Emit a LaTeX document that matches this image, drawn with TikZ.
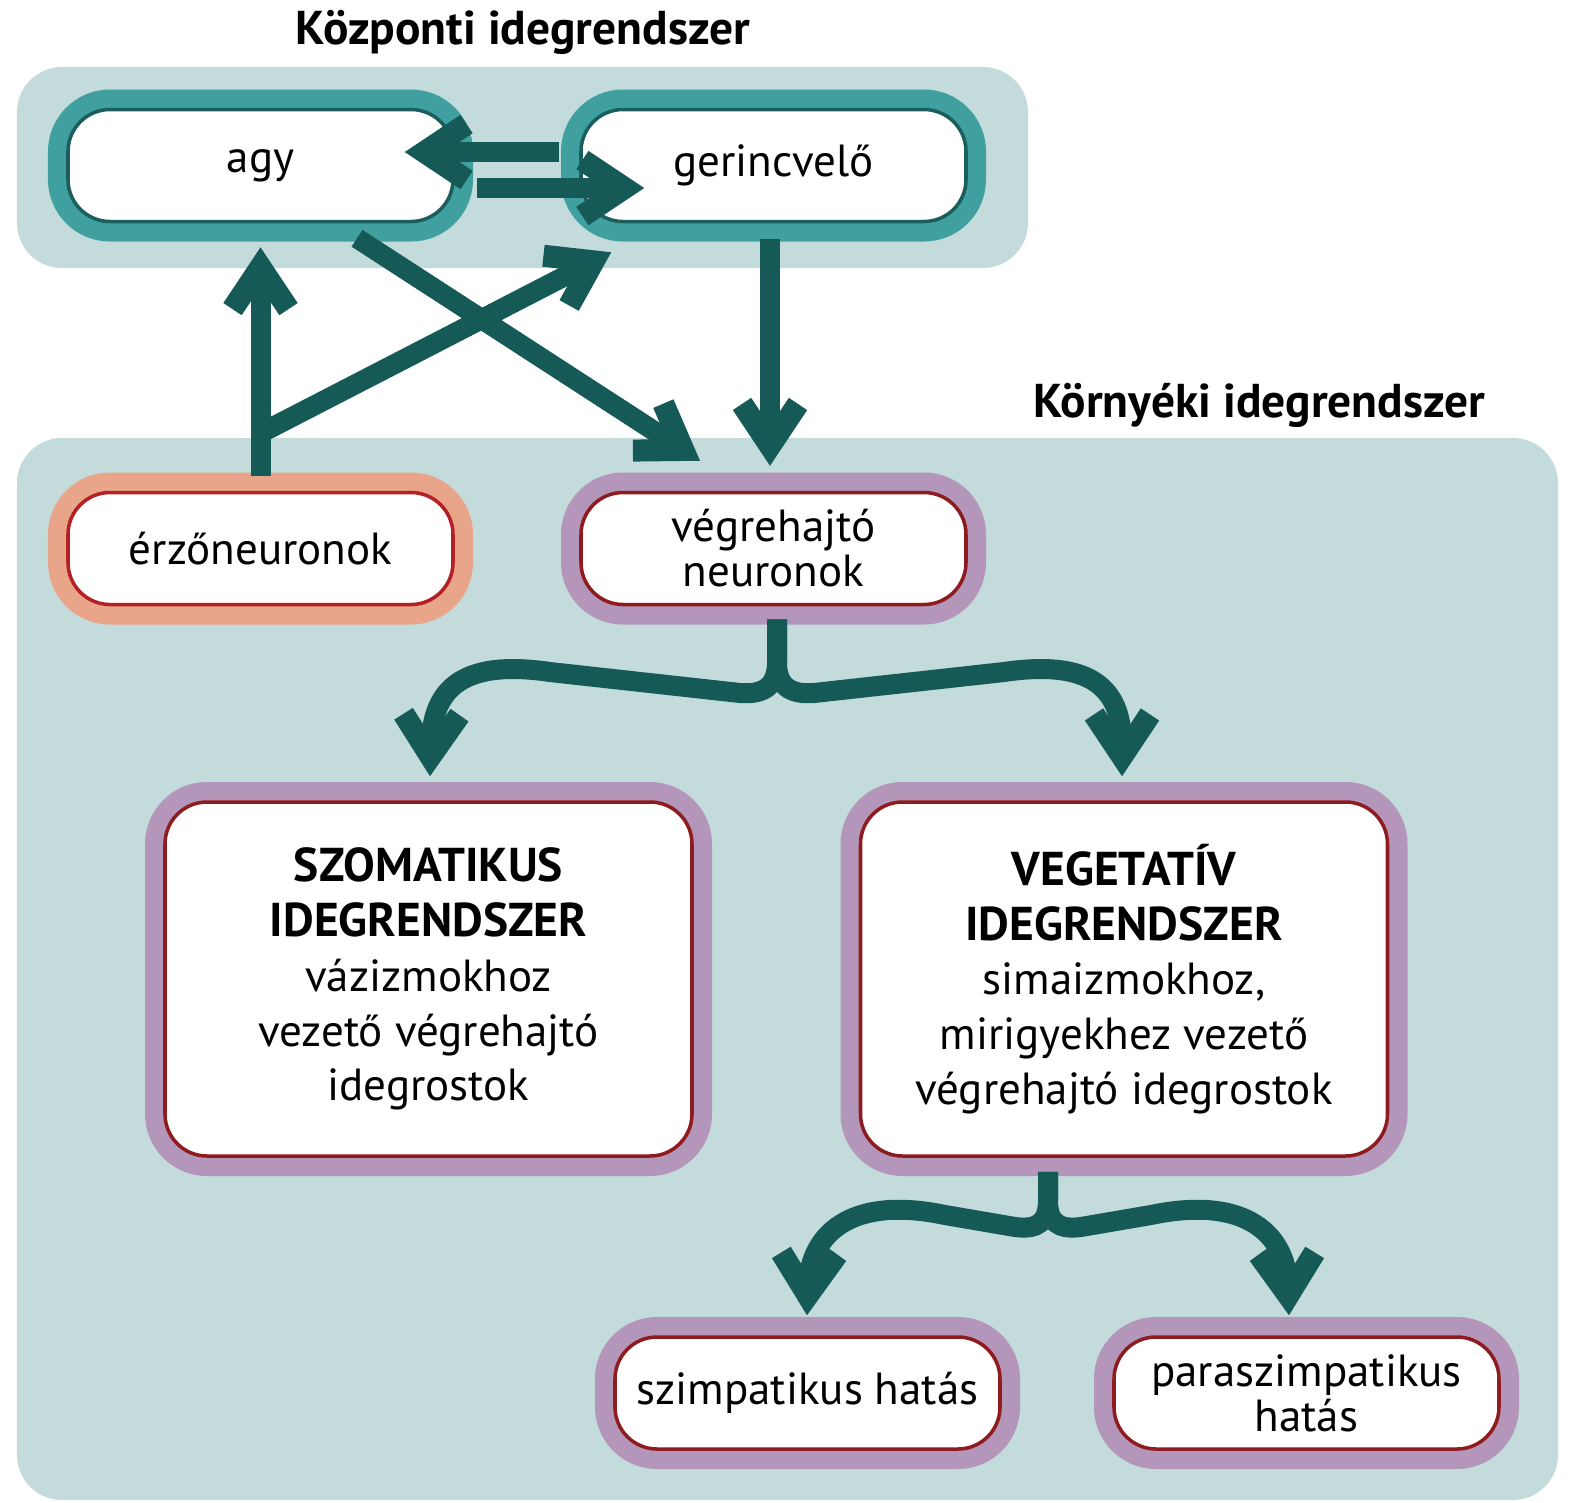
\documentclass[tikz,border=0pt]{standalone}
\usepackage{fontspec}
\setmainfont{PT Sans}
\usetikzlibrary{arrows.meta}

\definecolor{panelc}{HTML}{C4DBDB}
\definecolor{tealring}{HTML}{40A09F}
\definecolor{tealline}{HTML}{1B5E5D}
\definecolor{arrowc}{HTML}{165A57}
\definecolor{salmon}{HTML}{E9A58A}
\definecolor{lilac}{HTML}{B496BA}
\definecolor{redline}{HTML}{B52025}
\definecolor{darkred}{HTML}{8E1C1E}

\newcommand{\boxhead}[1]{{\fontsize{13.5}{15.6}\selectfont\bfseries #1}}

\tikzset{
  box/.style={rounded corners=0.42cm, fill=white, line width=1pt, align=center,
    font=\fontsize{12.8}{12.8}\selectfont, minimum width=3.85cm, minimum height=1.12cm,
    inner sep=0pt},
  cns/.style={box, draw=tealline, preaction={draw=tealring, line width=0.4cm}},
  sens/.style={box, draw=redline, preaction={draw=salmon, line width=0.4cm}},
  motor/.style={box, draw=darkred, preaction={draw=lilac, line width=0.4cm}},
  big/.style={minimum width=5.27cm, minimum height=3.54cm, font=\fontsize{12.8}{15.6}\selectfont},
  title/.style={font=\fontsize{13.5}{15}\selectfont\bfseries, inner sep=0pt},
  arr/.style={draw=arrowc, line width=0.2cm,
    -{Straight Barb[sharp, length=0.42cm, width=0.56cm, line width=0.22cm]}}
}

\begin{document}
\begin{tikzpicture}
    \useasboundingbox (0,0) rectangle (15.69,-15.03);

    % panels
    \fill[panelc, rounded corners=0.45cm] (0.17,-0.67) rectangle (10.28,-2.68);
    \fill[panelc, rounded corners=0.45cm] (0.17,-4.38) rectangle (15.58,-15.00);

    \node[title] (cnstitle) at (5.23,-0.32) {Központi idegrendszer};
    \node[title, anchor=east] (pnstitle) at (14.86,-4.05) {Környéki idegrendszer};

    % boxes
    \node[cns] (agy) at (2.605,-1.655) {agy};
    \node[cns] (gerinc) at (7.735,-1.655) {gerincvelő};
    \node[sens] (erzo) at (2.605,-5.485) {érzőneuronok};
    \node[motor] (vegre) at (7.735,-5.485) {végrehajtó\\neuronok};
    \node[motor, big] (szom) at (4.285,-9.79)
        {\boxhead{SZOMATIKUS}\\\boxhead{IDEGRENDSZER}\\vázizmokhoz\\vezető végrehajtó\\idegrostok};
    \node[motor, big] (veget) at (11.24,-9.79)
        {\boxhead{VEGETATÍV}\\\boxhead{IDEGRENDSZER}\\simaizmokhoz,\\mirigyekhez vezető\\végrehajtó idegrostok};
    \node[motor] (szimp) at (8.075,-13.93) {szimpatikus hatás};
    \node[motor] (para) at (13.065,-13.93) {paraszimpatikus\\hatás};

    % agy <-> gerincvelo
    \draw[arr] ([xshift=-0.2cm,yshift=0.135cm]gerinc.west) -- ([xshift=-0.5cm,yshift=0.135cm]agy.east);
    \draw[arr] ([xshift=0.22cm,yshift=-0.225cm]agy.east) -- ([xshift=0.65cm,yshift=-0.225cm]gerinc.west);

    % erzoneuronok up
    \draw[arr] ([yshift=0.15cm]erzo.north) -- ([yshift=-0.24cm]agy.south);
    \coordinate (fork) at (2.61,-4.33);
    \draw[arr] (fork) -- ([xshift=0.32cm,yshift=-0.29cm]gerinc.south west);

    % down to vegrehajto
    \draw[arr] ([xshift=0.965cm,yshift=-0.15cm]agy.south) -- ([xshift=-0.735cm,yshift=0.30cm]vegre.north);
    \draw[arr] ([xshift=-0.035cm,yshift=-0.16cm]gerinc.south) -- ([xshift=-0.035cm,yshift=0.25cm]vegre.north);

    % vegrehajto -> szomatikus / vegetativ
    \draw[arr] ([xshift=0.035cm,yshift=-0.13cm]vegre.south) -- (7.77,-6.62)
        .. controls (7.77,-6.85) and (7.65,-6.95) .. (7.40,-6.93) -- (5.50,-6.72)
        .. controls (4.55,-6.58) and (4.32,-6.95) .. ([xshift=0.015cm,yshift=0.24cm]szom.north);
    \draw[arr] ([xshift=0.035cm,yshift=-0.13cm]vegre.south) -- (7.77,-6.62)
        .. controls (7.77,-6.85) and (7.89,-6.95) .. (8.14,-6.93) -- (10.04,-6.72)
        .. controls (10.99,-6.58) and (11.22,-6.95) .. ([xshift=-0.02cm,yshift=0.24cm]veget.north);

    % vegetativ -> szimpatikus / paraszimpatikus
    \draw[arr] ([xshift=-0.76cm,yshift=-0.14cm]veget.south) -- (10.48,-12.00)
        .. controls (10.48,-12.22) and (10.38,-12.30) .. (10.15,-12.27) -- (9.45,-12.15)
        .. controls (8.50,-11.95) and (8.10,-12.35) .. ([xshift=-0.005cm,yshift=0.2cm]szimp.north);
    \draw[arr] ([xshift=-0.76cm,yshift=-0.14cm]veget.south) -- (10.48,-12.00)
        .. controls (10.48,-12.22) and (10.58,-12.30) .. (10.81,-12.27) -- (11.51,-12.15)
        .. controls (12.46,-11.95) and (12.86,-12.35) .. ([xshift=-0.175cm,yshift=0.2cm]para.north);

\end{tikzpicture}
\end{document}
